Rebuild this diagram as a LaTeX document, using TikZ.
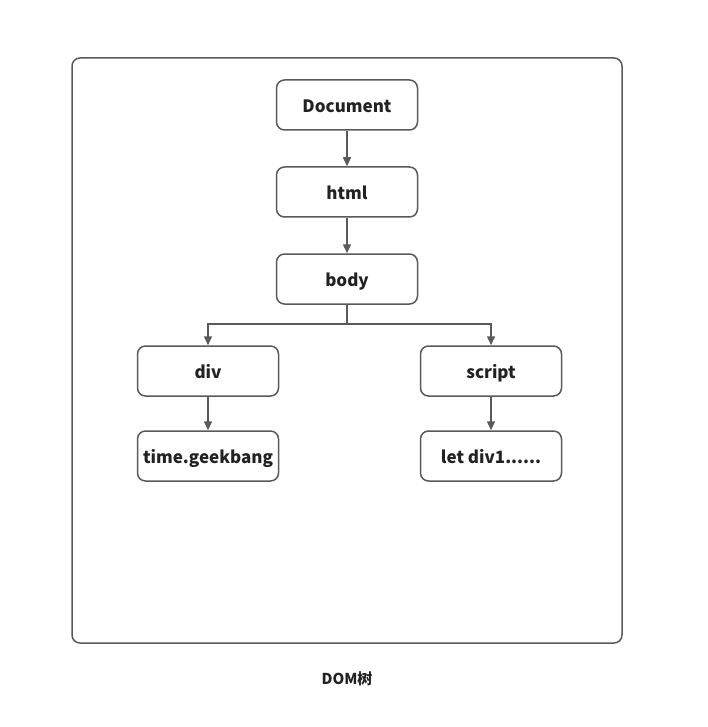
\documentclass[tikz,border=0pt]{standalone}
\usepackage{fontspec}
\setmainfont{Noto Sans CJK SC}
\usetikzlibrary{arrows.meta,positioning}
\definecolor{linegray}{HTML}{5A5A5A}
\definecolor{txt}{HTML}{222222}
\begin{document}
\begin{tikzpicture}[x=1pt,y=-1pt,
  box/.style={draw=linegray,line width=1.5pt,rounded corners=8pt,minimum width=141pt,minimum height=50pt,inner sep=0pt,text=txt,font=\fontsize{17}{19}\selectfont\bfseries,fill=white,text height=15pt,text depth=0pt},
  conn/.style={draw=linegray,line width=1.5pt,-{Triangle[length=9pt,width=8pt]}}]
\useasboundingbox (0,0) rectangle (708,727);
\draw[linegray,line width=1.5pt,rounded corners=8pt] (72,58) rectangle (622,643);
\node[box] (doc) at (347,105) {Document};
\node[box] (html) at (347,192) {html};
\node[box] (body) at (347,279) {body};
\node[box] (div) at (208,371) {div};
\node[box] (script) at (491,371) {script};
\node[box] (time) at (208,456) {time.geekbang};
\node[box] (let) at (491,456) {let div1......};
\coordinate (split) at (347,324);
\draw[conn] (doc) -- (html);
\draw[conn] (html) -- (body);
\draw[conn] (body.south) -- (split) -| (div.north);
\draw[conn] (split) -| (script.north);
\draw[conn] (div) -- (time);
\draw[conn] (script) -- (let);
\node[text=txt,font=\fontsize{15}{17}\selectfont\bfseries,text height=11pt,text depth=0pt,inner sep=0pt] (cap) at (347,679) {DOM树};
\end{tikzpicture}
\end{document}
